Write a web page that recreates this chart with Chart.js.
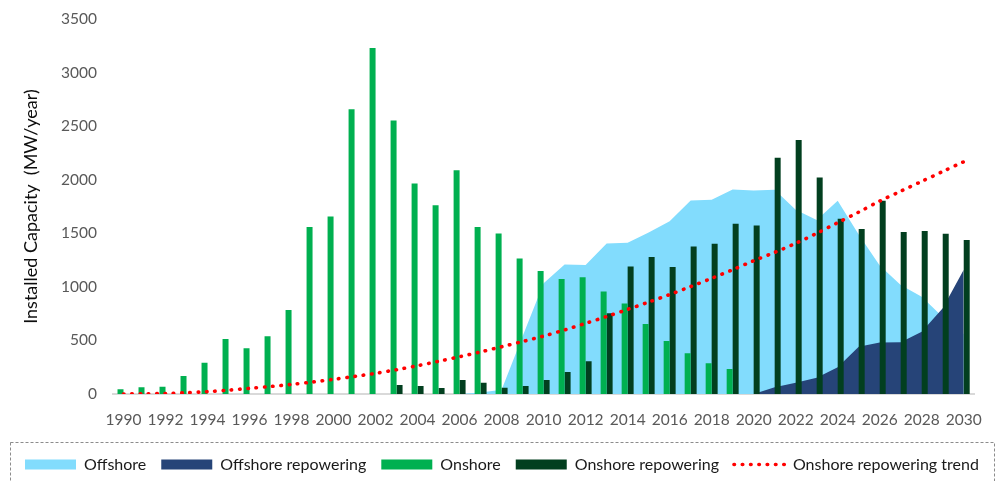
<!DOCTYPE html>
<html>
<head>
<meta charset="utf-8">
<script src="https://cdn.jsdelivr.net/npm/chart.js@4.4.1/dist/chart.umd.min.js"></script>
<style>
html,body{margin:0;padding:0;background:#fff;}
#wrap{width:999px;height:481px;position:relative;}
</style>
</head>
<body>
<div id="wrap"><canvas id="c"></canvas></div>
<script>
const years = ['1990','1991','1992','1993','1994','1995','1996','1997','1998','1999',
  '2000','2001','2002','2003','2004','2005','2006','2007','2008','2009',
  '2010','2011','2012','2013','2014','2015','2016','2017','2018','2019',
  '2020','2021','2022','2023','2024','2025','2026','2027','2028','2029','2030'];

const offshore = [0,0,0,0,0,0,0,0,0,0,
  0,0,0,0,0,0,0,15,40,540,
  1035,1210,1204,1406,1412,1508,1612,1806,1813,1910,
  1900,1906,1720,1624,1804,1490,1200,1017,908,720,560];

const offshoreRepowering = [0,0,0,0,0,0,0,0,0,0,
  0,0,0,0,0,0,0,0,0,0,
  0,0,0,0,0,0,0,0,0,0,
  0,62,104,152,250,441,480,482,582,800,1160];

const onshore = [44,62,68,168,292,513,426,538,784,1558,
  1658,2659,3231,2553,1966,1761,2090,1558,1499,1266,
  1148,1073,1089,958,846,653,494,380,286,233,
  null,null,null,null,null,null,null,null,null,null,null];

const onshoreRepowering = [null,null,null,null,null,null,null,null,null,null,
  null,null,null,84,75,56,131,105,59,75,
  131,205,305,753,1191,1279,1185,1378,1403,1590,
  1574,2205,2371,2022,1636,1540,1804,1512,1521,1496,1437];

const repoweringTrend = [0,2,5,12,22,36,53,70,90,112,
  137,164,193,227,264,305,348,393,441,490,
  541,598,660,723,790,858,928,1003,1080,1160,
  1244,1322,1406,1500,1599,1698,1801,1893,1985,2077,2168];

const yTicks = [0,500,1000,1500,2000,2500,3000,3500];

Chart.defaults.font.family = 'Lato';

const legendBox = {
  id: 'legendBox',
  afterLayout(chart) {
    const lg = chart.legend;
    lg.left = 10; lg.right = 999; lg.width = 989;
  },
  afterDraw(chart) {
    const ctx = chart.ctx;
    ctx.save();
    ctx.setLineDash([3, 2]);
    ctx.strokeStyle = '#8c8c8c';
    ctx.lineWidth = 1;
    ctx.strokeRect(10.5, 442.5, 984, 60);
    ctx.restore();
  }
};

new Chart(document.getElementById('c'), {
  data: {
    labels: years,
    datasets: [
      { type: 'line', label: 'Offshore', data: offshore, fill: 'origin',
        backgroundColor: '#82dcfd', borderColor: '#82dcfd', borderWidth: 0,
        pointRadius: 0, pointBorderWidth: 0, tension: 0, order: 3 },
      { type: 'line', label: 'Offshore repowering', data: offshoreRepowering, fill: 'origin',
        backgroundColor: '#264478', borderColor: '#264478', borderWidth: 0,
        pointRadius: 0, pointBorderWidth: 0, tension: 0, order: 2 },
      { type: 'bar', label: 'Onshore', data: onshore, backgroundColor: '#00b050',
        barPercentage: 1.0, categoryPercentage: 0.57, order: 1 },
      { type: 'bar', label: 'Onshore repowering', data: onshoreRepowering, backgroundColor: '#023f1f',
        barPercentage: 1.0, categoryPercentage: 0.57, order: 1 },
      { type: 'line', label: 'Onshore repowering trend', data: repoweringTrend, fill: false,
        borderColor: '#ff0000', backgroundColor: '#ff0000', borderWidth: 3.6,
        borderDash: [0.5, 7.8], borderCapStyle: 'round',
        pointRadius: 0, tension: 0.3, order: 0 }
    ]
  },
  options: {
    responsive: true,
    maintainAspectRatio: false,
    animation: false,
    layout: { padding: { left: 0, right: 24, top: 19, bottom: 0 } },
    scales: {
      x: {
        offset: true,
        grid: { display: false, drawTicks: false },
        border: { display: true, color: '#d9d9d9', width: 2 },
        ticks: {
          autoSkip: false, maxRotation: 0, minRotation: 0, padding: 17,
          color: '#595959', font: { size: 15.5 },
          callback: (v, i) => (i % 2 === 0 ? years[i] : '')
        },
        afterFit: (s) => { s.height = 47.5; }
      },
      y: {
        min: 0, max: 3500,
        grid: { display: false, drawTicks: false },
        border: { display: false },
        afterBuildTicks: (s) => { s.ticks = yTicks.map(v => ({ value: v })); },
        ticks: { padding: 16, color: '#595959', font: { size: 15.5, lineHeight: 0.4 }, callback: (v) => String(v) },
        title: { display: true, text: 'Installed Capacity  (MW/year)', color: '#0d0d0d',
          font: { size: 18 }, padding: { top: 20, bottom: 0 } },
        afterFit: (s) => { s.width = 113; }
      }
    },
    plugins: {
      tooltip: { enabled: false },
      legend: {
        position: 'bottom', align: 'start', maxHeight: 39.5,
        labels: {
          font: { size: 16 }, color: '#1a1a1a', padding: 15,
          usePointStyle: true, pointStyleWidth: 51, boxHeight: 10,
          sort: (a, b) => a.datasetIndex - b.datasetIndex,
          generateLabels: (chart) => chart.data.datasets.map((ds, i) => {
            const isLine = ds.type === 'line' && !ds.fill;
            return {
              text: ds.label, datasetIndex: i, hidden: false,
              fillStyle: isLine ? 'rgba(0,0,0,0)' : ds.backgroundColor,
              strokeStyle: isLine ? ds.borderColor : 'rgba(0,0,0,0)',
              lineWidth: isLine ? 3.6 : 0,
              lineDash: isLine ? [0.5, 7.8] : [],
              lineCap: 'round',
              pointStyle: isLine ? 'line' : 'rect',
              fontColor: '#1a1a1a'
            };
          })
        }
      }
    }
  },
  plugins: [legendBox]
});
</script>
</body>
</html>
